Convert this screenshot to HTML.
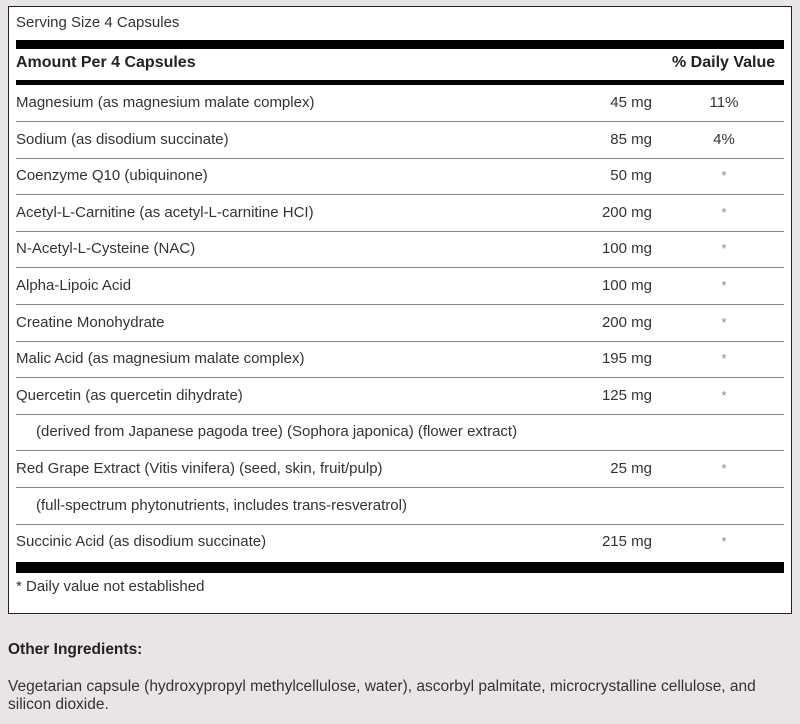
<!DOCTYPE html>
<html><head><style>
body{margin:0;width:800px;height:724px;background:#e9e5e5;font-family:"Liberation Sans",sans-serif;color:#333;position:relative;overflow:hidden}
.box{position:absolute;left:8px;top:6px;width:782px;height:606px;background:#fff;border:1px solid #222}
.t{position:absolute;font-size:15px;line-height:18px;white-space:nowrap}
.bar{position:absolute;left:7px;width:768px;background:#000}
.sep{position:absolute;left:7px;width:768px;height:1px;background:#888}
.r{text-align:right;width:100px}
.c{text-align:center;width:80px}
</style></head><body>
<div class="box">
<div class="t" style="left:7px;top:7px">Serving Size 4 Capsules</div>
<div class="bar" style="top:33px;height:9px"></div>
<div class="t" style="left:7px;top:47px;font-weight:bold;color:#222;font-size:16px">Amount Per 4 Capsules</div>
<div class="t" style="left:663px;top:47px;font-weight:bold;color:#222;font-size:16px">% Daily Value</div>
<div class="bar" style="top:73px;height:5px"></div>
<div id="rows"></div>
<div class="bar" style="top:555px;height:11px"></div>
<div class="t" style="left:7px;top:571px">* Daily value not established</div>
</div>
<div class="t" style="left:8px;top:641px;font-weight:bold;color:#222;font-size:15.5px">Other Ingredients:</div>
<div class="t" style="left:8px;top:678px;line-height:18px;font-size:15.5px">Vegetarian capsule (hydroxypropyl methylcellulose, water), ascorbyl palmitate, microcrystalline cellulose, and<br>silicon dioxide.</div>
<script>
var d=[["Magnesium (as magnesium malate complex)","45 mg","11%"],["Sodium (as disodium succinate)","85 mg","4%"],["Coenzyme Q10 (ubiquinone)","50 mg","*"],["Acetyl-L-Carnitine (as acetyl-L-carnitine HCI)","200 mg","*"],["N-Acetyl-L-Cysteine (NAC)","100 mg","*"],["Alpha-Lipoic Acid","100 mg","*"],["Creatine Monohydrate","200 mg","*"],["Malic Acid (as magnesium malate complex)","195 mg","*"],["Quercetin (as quercetin dihydrate)","125 mg","*"],["    (derived from Japanese pagoda tree) (Sophora japonica) (flower extract)","",""],["Red Grape Extract (Vitis vinifera) (seed, skin, fruit/pulp)","25 mg","*"],["    (full-spectrum phytonutrients, includes trans-resveratrol)","",""],["Succinic Acid (as disodium succinate)","215 mg","*"]];
var h="";
d.forEach(function(r,i){var y=78+i*36.6;var ind=r[0].indexOf("    ")==0;
h+='<div class="t" style="left:'+(ind?27:7)+'px;top:'+(y+9)+'px">'+r[0].trim()+'</div>';
h+='<div class="t r" style="left:543px;top:'+(y+9)+'px">'+r[1]+'</div>';
h+='<div class="t c" style="left:675px;top:'+(y+9)+'px;'+(r[2]=="*"?'color:#888;font-size:13px':'')+'">'+r[2]+'</div>';
if(i<12)h+='<div class="sep" style="top:'+(y+36)+'px"></div>';});
document.getElementById("rows").innerHTML=h;
</script>
</body></html>
